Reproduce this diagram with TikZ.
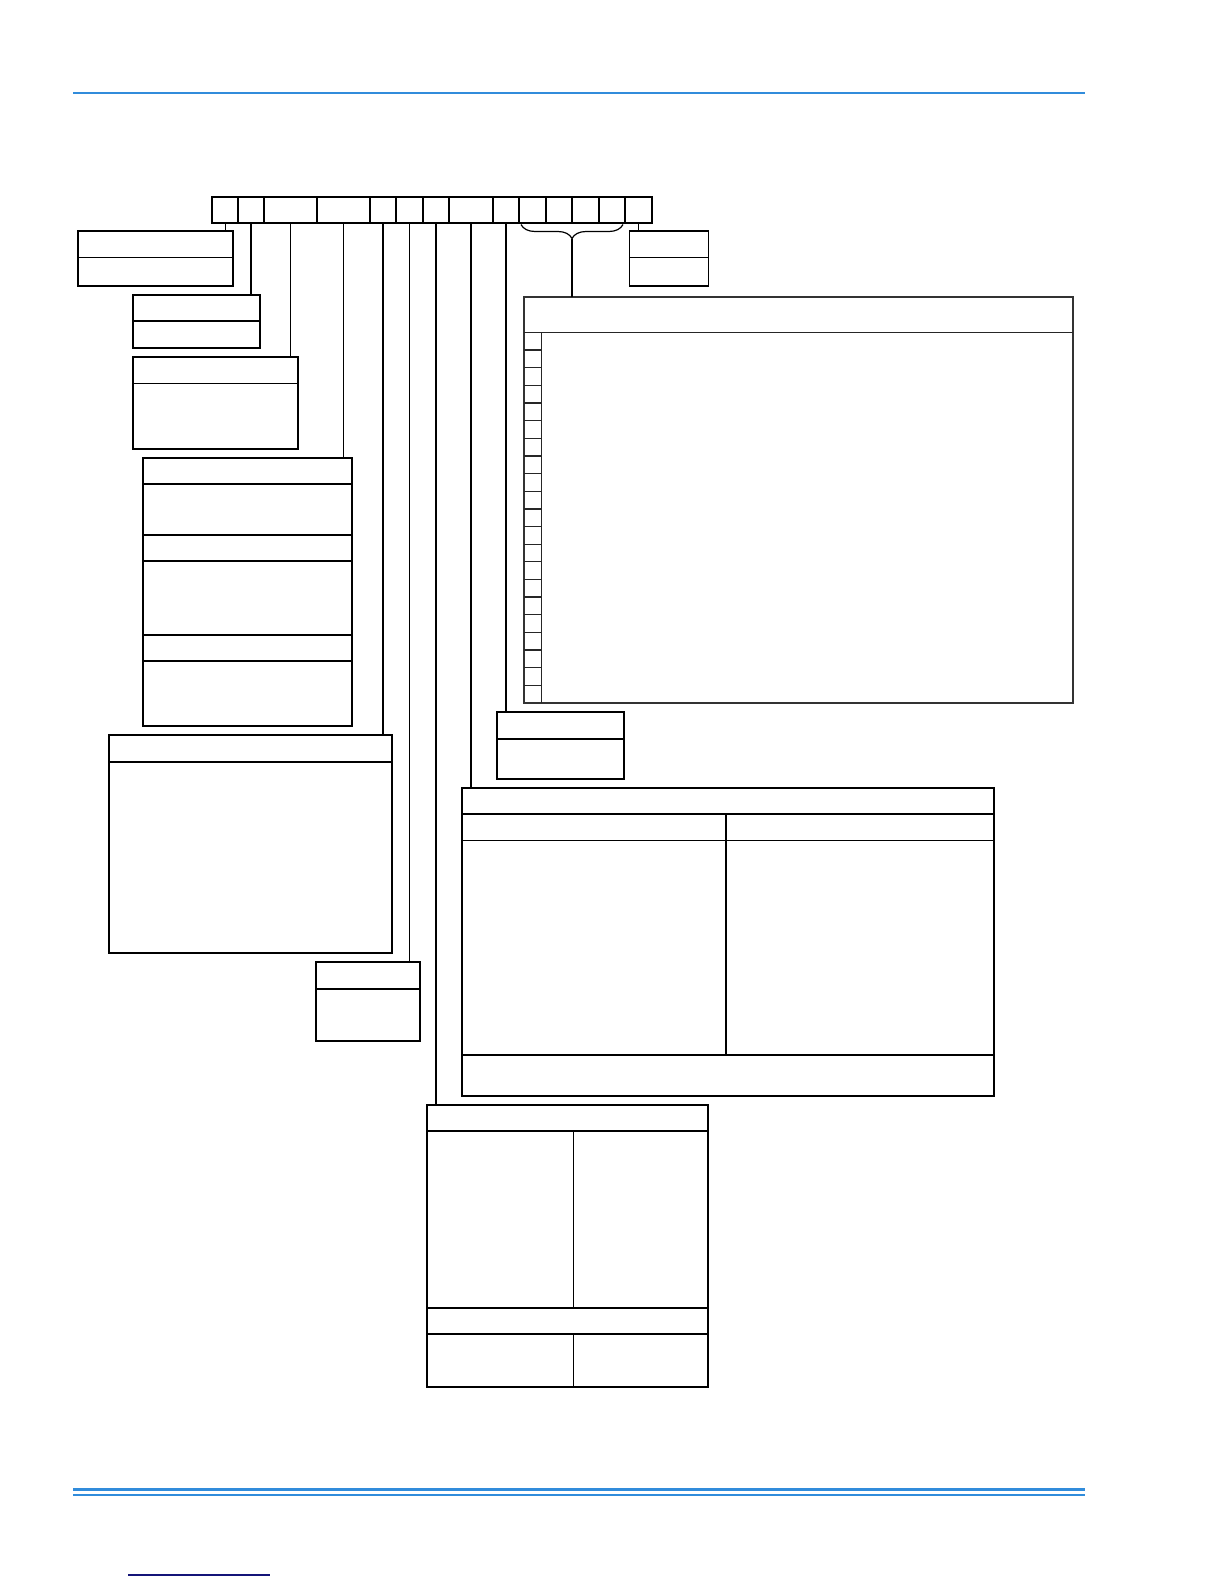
\documentclass[tikz,border=0pt]{standalone}
\usetikzlibrary{decorations.pathreplacing}
\definecolor{ruleblue}{RGB}{49,140,219}
\definecolor{footblue}{RGB}{20,20,120}
\tikzset{
  cell/.style={draw, line width=1.5pt, inner sep=0pt, outer sep=0pt, anchor=north west, minimum height=26pt},
  box/.style={draw, line width=1.7pt, inner sep=0pt, outer sep=0pt, anchor=north west},
  tablebox/.style={draw=black!80, line width=1.2pt, inner sep=0pt, outer sep=0pt, anchor=north west},
  div/.style={line width=1.6pt},
  thindiv/.style={line width=1pt},
  tablediv/.style={draw=black!85, line width=1.3pt},
  lead/.style={line width=1.7pt},
  thinlead/.style={line width=0.9pt},
  rule/.style={draw=ruleblue, line width=#1},
}

\begin{document}
\begin{tikzpicture}[x=1pt, y=-1pt]
    \useasboundingbox (0,0) rectangle (1224,1584);

    % page rules
    \draw[rule=1.5pt] (73,93) -- (1085,93);
    \draw[rule=3pt] (73,1489) -- (1085,1489);
    \draw[rule=1.5pt] (73,1495) -- (1085,1495);
    \draw[draw=footblue, line width=1.5pt] (128,1575) -- (270,1575);

    % code strip
    \foreach \l/\r [count=\i] in {212/238,238/264,264/317,317/370,370/396,396/423,423/449,
                                  449/493,493/519,519/546,546/572,572/599,599/625,625/652}
        \node[cell, minimum width={(\r-\l)*1pt}] (c\i) at (\l,197) {};

    % boxes
    \node[box, minimum width=155.6pt, minimum height=55.3pt] (A) at (77.7,230.7) {};
    \draw[thindiv] (77.7,257.3) -- (233.3,257.3);

    \node[box, minimum width=127.3pt, minimum height=53.3pt] (B) at (132.7,294.7) {};
    \draw[div] (132.7,320.7) -- (260,320.7);

    \node[box, minimum width=165.6pt, minimum height=92.6pt] (C) at (132.7,356.7) {};
    \draw[thindiv] (132.7,383.3) -- (298.3,383.3);

    \node[box, minimum width=209.3pt, minimum height=268.3pt] (D) at (142.7,457.7) {};
    \foreach \y in {483.7,535,560.7,635,660.7}
        \draw[div] (142.7,\y) -- (352,\y);

    \node[box, minimum width=283pt, minimum height=218.3pt] (E) at (109,735) {};
    \draw[div] (109,762) -- (392,762);

    \node[box, minimum width=104.6pt, minimum height=78.4pt] (F) at (315.7,962.3) {};
    \draw[div] (315.7,989) -- (420.3,989);

    \node[box, minimum width=281pt, minimum height=282.3pt] (J) at (426.7,1104.7) {};
    \draw[div] (426.7,1131) -- (707.7,1131);
    \draw[div] (426.7,1308) -- (707.7,1308);
    \draw[div] (426.7,1334) -- (707.7,1334);
    \draw[thindiv] (573.3,1131) -- (573.3,1308);
    \draw[thindiv] (573.3,1334) -- (573.3,1387);

    \node[box, minimum width=532pt, minimum height=308pt] (H) at (462,787.7) {};
    \draw[div] (462,813.7) -- (994,813.7);
    \draw[thindiv] (462,840.3) -- (994,840.3);
    \draw[div] (726,813.7) -- (726,1054.7);
    \draw[div] (462,1054.7) -- (994,1054.7);

    \node[box, minimum width=127.6pt, minimum height=66.7pt] (G) at (496.7,712.3) {};
    \draw[div] (496.7,739) -- (624.3,739);

    \node[tablebox, minimum width=549pt, minimum height=406pt] (T) at (524,297) {};
    \draw[tablediv] (524,332.5) -- (1073,332.5);
    \draw[tablediv] (541.7,332.5) -- (541.7,703);
    \foreach \k in {1,...,20}
        \draw[tablediv] (524,{332.5+\k*17.64}) -- (541.7,{332.5+\k*17.64});

    \node[box, minimum width=79pt, minimum height=55.3pt] (K) at (629.5,230.7) {};
    \draw[thindiv] (629.5,257) -- (708.5,257);

    % leaders
    \draw[thinlead] (c1.south) -- (c1.south |- A.north);
    \draw[lead] (c2.south) -- (c2.south |- B.north);
    \draw[thinlead] (c3.south) -- (c3.south |- C.north);
    \draw[lead] (c4.south) -- (c4.south |- D.north);
    \draw[lead] (c5.south) -- (c5.south |- E.north);
    \draw[thinlead] (c6.south) -- (c6.south |- F.north);
    \draw[lead] (c7.south) -- (c7.south |- J.north);
    \draw[lead] (c8.south) -- (c8.south |- H.north);
    \draw[lead] (c9.south) -- (c9.south |- G.north);
    \draw[thinlead] (c14.south) -- (c14.south |- K.north);

    % brace over the four option cells
    \coordinate (bl) at (521,224.5);
    \coordinate (br) at (623,224.5);
    \coordinate (bt) at (572,238.5);
    \draw[decorate, decoration={brace, mirror, amplitude=14pt}, line width=1.2pt] (bl) -- (br);
    \draw[lead] (bt) -- (bt |- T.north);

\end{tikzpicture}
\end{document}
